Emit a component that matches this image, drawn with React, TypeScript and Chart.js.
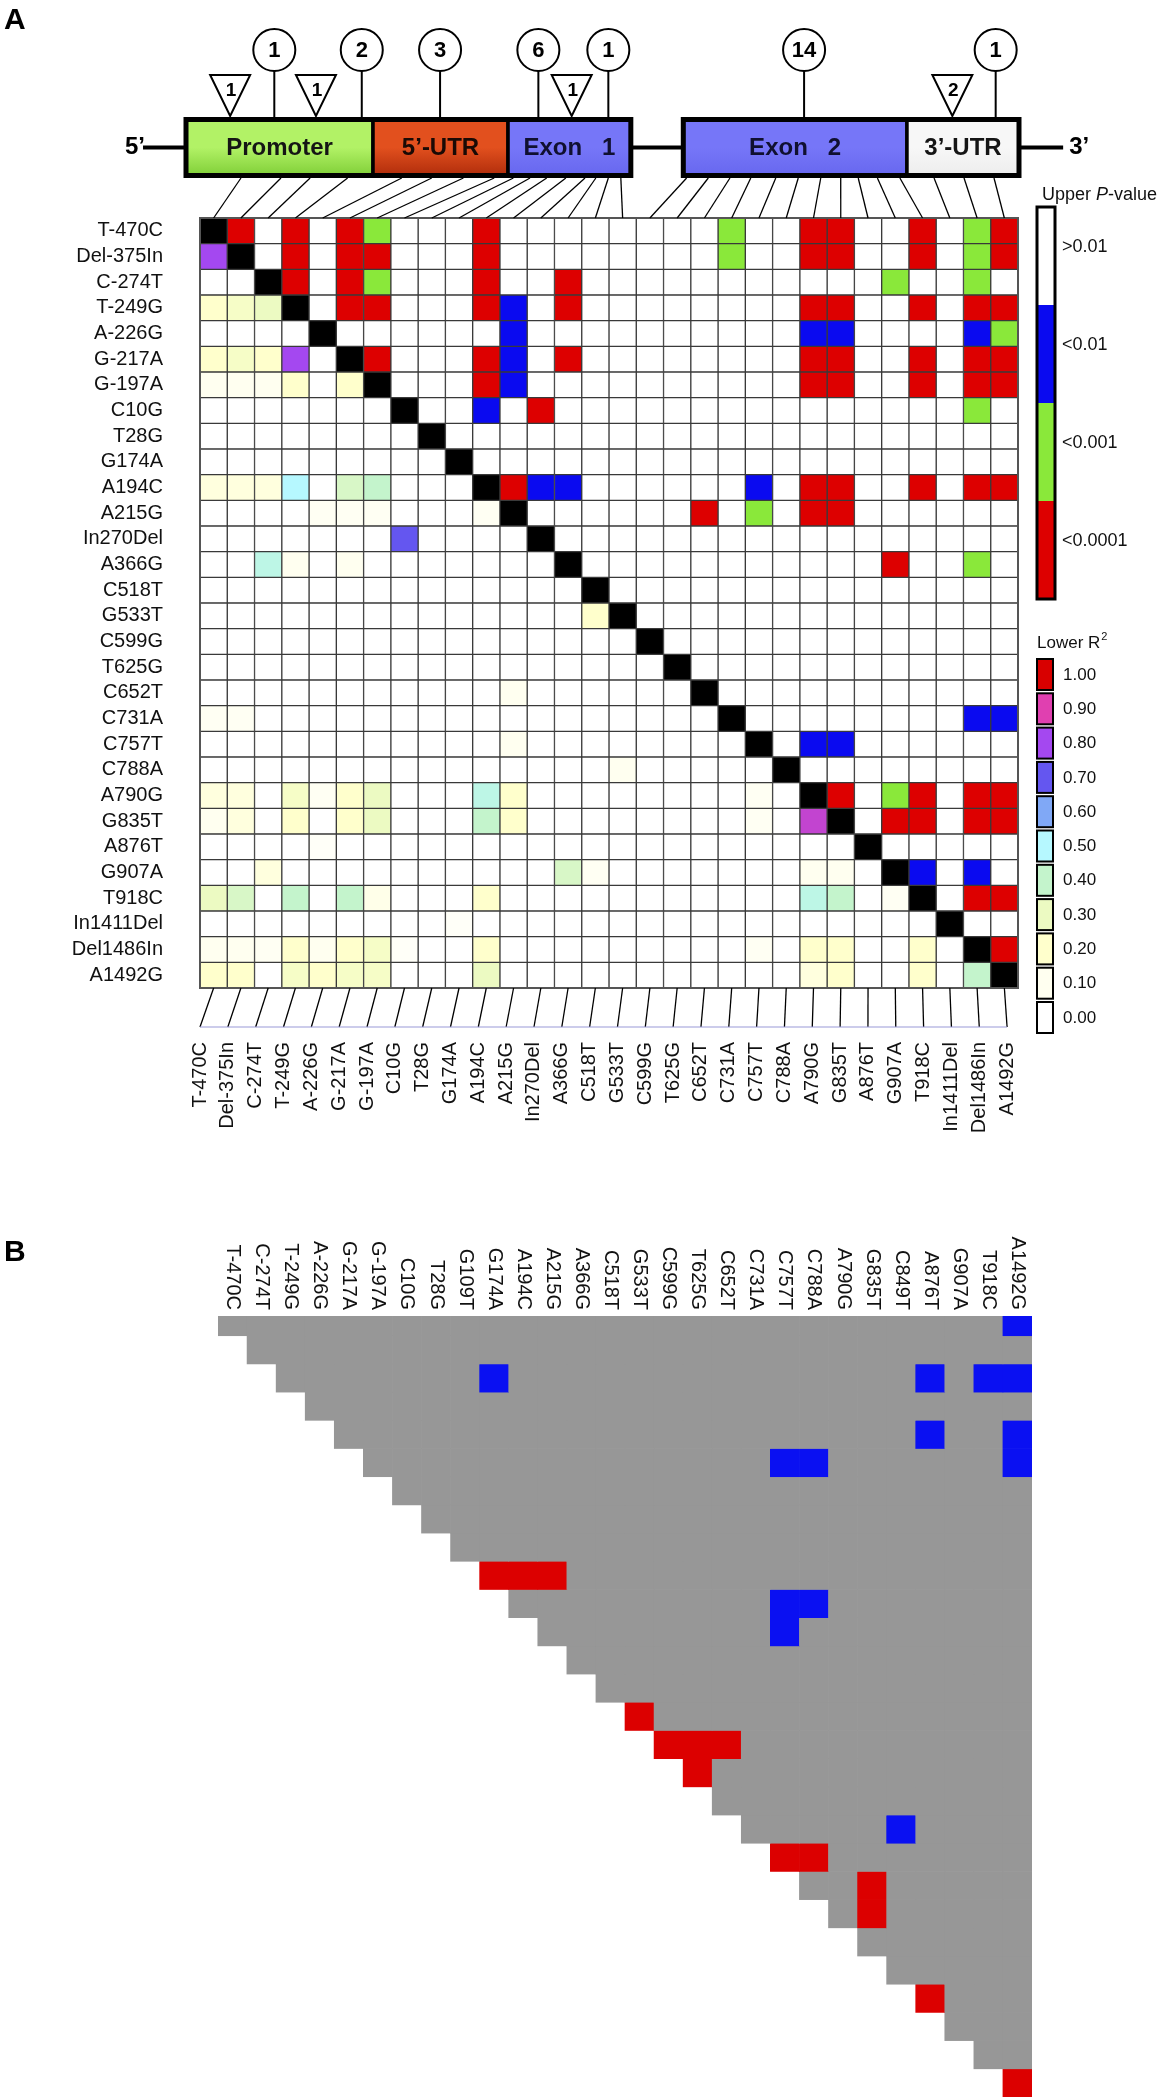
import React, { useEffect, useRef } from 'react';
import { Chart, registerables } from 'chart.js';

Chart.register(...registerables);

const FONT = "'Liberation Sans', Arial, Helvetica, sans-serif";

// ---------------- Panel A : LD matrix ----------------
const snpLabelsA = [
  'T-470C', 'Del-375In', 'C-274T', 'T-249G', 'A-226G', 'G-217A', 'G-197A', 'C10G', 'T28G', 'G174A',
  'A194C', 'A215G', 'In270Del', 'A366G', 'C518T', 'G533T', 'C599G', 'T625G', 'C652T', 'C731A',
  'C757T', 'C788A', 'A790G', 'G835T', 'A876T', 'G907A', 'T918C', 'In1411Del', 'Del1486In', 'A1492G',
];

// upper triangle: [row, col, class]  1 = P<0.01, 2 = P<0.001, 3 = P<0.0001
const upperPCells = [
  [0, 1, 3], [0, 3, 3], [0, 5, 3], [0, 6, 2], [0, 10, 3], [0, 19, 2], [0, 22, 3], [0, 23, 3], [0, 26, 3], [0, 28, 2], [0, 29, 3],
  [1, 3, 3], [1, 5, 3], [1, 6, 3], [1, 10, 3], [1, 19, 2], [1, 22, 3], [1, 23, 3], [1, 26, 3], [1, 28, 2], [1, 29, 3],
  [2, 3, 3], [2, 5, 3], [2, 6, 2], [2, 10, 3], [2, 13, 3], [2, 25, 2], [2, 28, 2],
  [3, 5, 3], [3, 6, 3], [3, 10, 3], [3, 11, 1], [3, 13, 3], [3, 22, 3], [3, 23, 3], [3, 26, 3], [3, 28, 3], [3, 29, 3],
  [4, 11, 1], [4, 22, 1], [4, 23, 1], [4, 28, 1], [4, 29, 2],
  [5, 6, 3], [5, 10, 3], [5, 11, 1], [5, 13, 3], [5, 22, 3], [5, 23, 3], [5, 26, 3], [5, 28, 3], [5, 29, 3],
  [6, 10, 3], [6, 11, 1], [6, 22, 3], [6, 23, 3], [6, 26, 3], [6, 28, 3], [6, 29, 3],
  [7, 10, 1], [7, 12, 3], [7, 28, 2],
  [10, 11, 3], [10, 12, 1], [10, 13, 1], [10, 20, 1], [10, 22, 3], [10, 23, 3], [10, 26, 3], [10, 28, 3], [10, 29, 3],
  [11, 18, 3], [11, 20, 2], [11, 22, 3], [11, 23, 3],
  [13, 25, 3], [13, 28, 2],
  [19, 28, 1], [19, 29, 1],
  [20, 22, 1], [20, 23, 1],
  [22, 23, 3], [22, 25, 2], [22, 26, 3], [22, 28, 3], [22, 29, 3],
  [23, 25, 3], [23, 26, 3], [23, 28, 3], [23, 29, 3],
  [25, 26, 1], [25, 28, 1],
  [26, 28, 3], [26, 29, 3],
  [28, 29, 3],
];

// lower triangle: [row, col, R2]
const lowerR2Cells = [
  [1, 0, 0.8],
  [3, 0, 0.2], [3, 1, 0.25], [3, 2, 0.3],
  [5, 0, 0.2], [5, 1, 0.25], [5, 2, 0.2], [5, 3, 0.8],
  [6, 0, 0.1], [6, 1, 0.1], [6, 2, 0.1], [6, 3, 0.2], [6, 5, 0.2],
  [10, 0, 0.15], [10, 1, 0.15], [10, 2, 0.15], [10, 3, 0.5], [10, 5, 0.35], [10, 6, 0.4],
  [11, 4, 0.08], [11, 5, 0.08], [11, 6, 0.08], [11, 10, 0.08],
  [12, 7, 0.7],
  [13, 2, 0.45], [13, 3, 0.1], [13, 5, 0.1],
  [15, 14, 0.2],
  [18, 11, 0.1],
  [19, 0, 0.08], [19, 1, 0.08],
  [20, 11, 0.1],
  [21, 15, 0.1],
  [22, 0, 0.15], [22, 1, 0.15], [22, 3, 0.25], [22, 4, 0.08], [22, 5, 0.2], [22, 6, 0.3], [22, 10, 0.45], [22, 11, 0.2], [22, 20, 0.08],
  [23, 0, 0.1], [23, 1, 0.15], [23, 3, 0.2], [23, 5, 0.2], [23, 6, 0.3], [23, 10, 0.4], [23, 11, 0.2], [23, 20, 0.08], [23, 22, 0.85],
  [24, 4, 0.05],
  [25, 2, 0.15], [25, 13, 0.35], [25, 14, 0.08], [25, 22, 0.1], [25, 23, 0.1],
  [26, 0, 0.3], [26, 1, 0.35], [26, 3, 0.4], [26, 5, 0.4], [26, 6, 0.12], [26, 10, 0.2], [26, 22, 0.45], [26, 23, 0.4], [26, 25, 0.08],
  [27, 9, 0.05],
  [28, 0, 0.1], [28, 1, 0.1], [28, 2, 0.08], [28, 3, 0.2], [28, 4, 0.1], [28, 5, 0.2], [28, 6, 0.25], [28, 7, 0.05], [28, 10, 0.2], [28, 20, 0.08], [28, 22, 0.2], [28, 23, 0.2], [28, 26, 0.2],
  [29, 0, 0.2], [29, 1, 0.2], [29, 3, 0.25], [29, 4, 0.2], [29, 5, 0.25], [29, 6, 0.25], [29, 10, 0.3], [29, 22, 0.15], [29, 23, 0.2], [29, 26, 0.2], [29, 28, 0.4],
];

const pClassLabels = ['>0.01', '<0.01', '<0.001', '<0.0001'];
const pClassColors = ['#ffffff', '#0a0af0', '#8ae83a', '#dd0000'];

const r2LegendLevels = [0, 0.1, 0.2, 0.3, 0.4, 0.5, 0.6, 0.7, 0.8, 0.9, 1.0];
const r2LegendLabels = ['0.00', '0.10', '0.20', '0.30', '0.40', '0.50', '0.60', '0.70', '0.80', '0.90', '1.00'];
const r2LegendColors = ['#ffffff', '#fffff0', '#ffffcc', '#ecfac2', '#c4f4cc', '#b6f8ff', '#80a8f6', '#6456f0', '#a448f0', '#e040b0', '#d80000'];

// ---------------- gene diagram (schematic units 0..100) ----------------
const geneAxisMin = 1.68;
const geneAxisMax = 99.88;
const geneBackbone = [-5.16, 105.3];
const regionNames = ['Promoter', '5’-UTR', 'Exon   1', 'Exon   2', '3’-UTR'];
const regionStarts = [0, 22.45, 38.66, 59.7, 86.55];
const regionEnds = [22.45, 38.66, 53.4, 86.55, 100];
const regionTopColors = ['#b2f266', '#e2501e', '#7676f8', '#7676f8', '#f7f7f7'];
const regionBottomColors = ['#7ccc34', '#ac2a0a', '#6666ee', '#6666ee', '#ececec'];
const regionTextColors = ['#151515', '#1a0a05', '#101030', '#101030', '#151515'];
const geneBlockStarts = [0, 59.7];
const geneBlockEnds = [53.4, 100];
const snpGenePositions = [
  6.6, 11.4, 14.9, 19.4, 25.9, 29.5, 33.3, 37.0, 39.3, 41.3, 43.3, 45.6, 47.9, 49.2, 50.7,
  52.2, 60.1, 62.7, 65.3, 67.8, 70.8, 73.5, 76.2, 78.6, 80.7, 83.0, 85.7, 89.8, 93.4, 97.0,
];
const circleMarkerPositions = [10.6, 21.1, 30.5, 42.3, 50.7, 74.2, 97.2];
const circleMarkerCounts = [1, 2, 3, 6, 1, 14, 1];
const triangleMarkerPositions = [5.3, 15.6, 46.3, 92.0];
const triangleMarkerCounts = [1, 1, 1, 2];

// ---------------- Panel B ----------------
const snpLabelsB = [
  'T-470C', 'C-274T', 'T-249G', 'A-226G', 'G-217A', 'G-197A', 'C10G', 'T28G', 'G109T', 'G174A',
  'A194C', 'A215G', 'A366G', 'C518T', 'G533T', 'C599G', 'T625G', 'C652T', 'C731A', 'C757T',
  'C788A', 'A790G', 'G835T', 'C849T', 'A876T', 'G907A', 'T918C', 'A1492G',
];
// [row, col, class]  1 = blue, 2 = red
const panelBCells = [
  [0, 27, 1], [2, 9, 1], [2, 24, 1], [2, 26, 1], [2, 27, 1], [4, 24, 1], [4, 27, 1],
  [5, 19, 1], [5, 20, 1], [5, 27, 1], [9, 9, 2], [9, 10, 2], [9, 11, 2], [10, 19, 1], [10, 20, 1],
  [11, 19, 1], [14, 14, 2], [15, 15, 2], [15, 16, 2], [15, 17, 2], [16, 16, 2], [18, 23, 1],
  [19, 19, 2], [19, 20, 2], [20, 22, 2], [21, 22, 2], [24, 24, 2], [27, 27, 2],
];
const panelBClassColors = ['#979797', '#0a10f2', '#dc0000'];
const panelBRowMin = 0.3;

// ---------------- helpers ----------------
function hexToRgb(h: string) {
  const n = parseInt(h.slice(1), 16);
  return [(n >> 16) & 255, (n >> 8) & 255, n & 255];
}
function r2Color(v: number) {
  if (v <= 0) return r2LegendColors[0];
  for (let k = 0; k < r2LegendLevels.length - 1; k++) {
    const a = r2LegendLevels[k];
    const b = r2LegendLevels[k + 1];
    if (v <= b) {
      const t = (v - a) / (b - a);
      const c1 = hexToRgb(r2LegendColors[k]);
      const c2 = hexToRgb(r2LegendColors[k + 1]);
      const c = c1.map((x, i) => Math.round(x + (c2[i] - x) * t));
      return `rgb(${c[0]},${c[1]},${c[2]})`;
    }
  }
  return r2LegendColors[r2LegendColors.length - 1];
}

const panelAPlugin = {
  id: 'panelAExtras',
  afterDraw(chart: any) {
    const ctx = chart.ctx as CanvasRenderingContext2D;
    const ca = chart.chartArea;
    const xs = chart.scales.x;
    const xg = chart.scales.xg;
    ctx.save();

    // frame around matrix
    ctx.strokeStyle = '#555';
    ctx.lineWidth = 2;
    ctx.strokeRect(ca.left, ca.top, ca.right - ca.left, ca.bottom - ca.top);

    // panel letter
    ctx.fillStyle = '#000';
    ctx.font = `bold 30px ${FONT}`;
    ctx.textAlign = 'left';
    ctx.textBaseline = 'alphabetic';
    ctx.fillText('A', 4, 29);

    // ---- gene diagram ----
    const boxTop = ca.top - 101;
    const boxBot = ca.top - 40;
    const midY = (boxTop + boxBot) / 2;
    const inset = 2.5;

    // connecting lines gene -> matrix columns
    ctx.strokeStyle = '#000';
    ctx.lineWidth = 1.3;
    snpGenePositions.forEach((u, i) => {
      ctx.beginPath();
      ctx.moveTo(xg.getPixelForValue(u), boxBot);
      ctx.lineTo(xs.getPixelForValue(i + 0.5), ca.top);
      ctx.stroke();
    });

    // backbone
    ctx.lineWidth = 4;
    ctx.beginPath();
    ctx.moveTo(xg.getPixelForValue(geneBackbone[0]), midY);
    ctx.lineTo(xg.getPixelForValue(geneBackbone[1]), midY);
    ctx.stroke();
    ctx.font = `bold 24px ${FONT}`;
    ctx.textBaseline = 'middle';
    ctx.textAlign = 'right';
    ctx.fillText('5’', xg.getPixelForValue(geneBackbone[0]) + 2, midY);
    ctx.textAlign = 'left';
    ctx.fillText('3’', xg.getPixelForValue(geneBackbone[1]) + 6, midY);

    // regions
    regionNames.forEach((name, k) => {
      const x0 = xg.getPixelForValue(regionStarts[k]);
      const x1 = xg.getPixelForValue(regionEnds[k]);
      const g = ctx.createLinearGradient(0, boxTop, 0, boxBot);
      g.addColorStop(0, regionTopColors[k]);
      g.addColorStop(0.5, regionTopColors[k]);
      g.addColorStop(1, regionBottomColors[k]);
      ctx.fillStyle = g;
      ctx.fillRect(x0, boxTop + inset, x1 - x0, boxBot - boxTop - 2 * inset);
      ctx.strokeStyle = '#000';
      ctx.lineWidth = 3.5;
      ctx.strokeRect(x0, boxTop + inset, x1 - x0, boxBot - boxTop - 2 * inset);
      ctx.fillStyle = regionTextColors[k];
      ctx.font = `bold 24px ${FONT}`;
      ctx.textAlign = 'center';
      ctx.textBaseline = 'middle';
      ctx.fillText(name, (x0 + x1) / 2, midY + 1);
    });
    geneBlockStarts.forEach((s, k) => {
      const x0 = xg.getPixelForValue(s);
      const x1 = xg.getPixelForValue(geneBlockEnds[k]);
      ctx.strokeStyle = '#000';
      ctx.lineWidth = 5;
      ctx.strokeRect(x0, boxTop + inset, x1 - x0, boxBot - boxTop - 2 * inset);
    });

    // circle markers
    const cy = ca.top - 168;
    const r = 21;
    circleMarkerPositions.forEach((u, k) => {
      const x = xg.getPixelForValue(u);
      ctx.strokeStyle = '#000';
      ctx.lineWidth = 2;
      ctx.beginPath();
      ctx.moveTo(x, cy + r);
      ctx.lineTo(x, boxTop);
      ctx.stroke();
      ctx.beginPath();
      ctx.arc(x, cy, r, 0, Math.PI * 2);
      ctx.fillStyle = '#fff';
      ctx.fill();
      ctx.stroke();
      ctx.fillStyle = '#000';
      ctx.font = `bold 22px ${FONT}`;
      ctx.textAlign = 'center';
      ctx.textBaseline = 'middle';
      ctx.fillText(String(circleMarkerCounts[k]), x, cy + 1);
    });

    // triangle markers
    const triTop = ca.top - 143;
    const triTip = ca.top - 102;
    triangleMarkerPositions.forEach((u, k) => {
      const x = xg.getPixelForValue(u);
      ctx.beginPath();
      ctx.moveTo(x - 20, triTop);
      ctx.lineTo(x + 20, triTop);
      ctx.lineTo(x, triTip);
      ctx.closePath();
      ctx.fillStyle = '#fff';
      ctx.fill();
      ctx.strokeStyle = '#000';
      ctx.lineWidth = 2;
      ctx.stroke();
      ctx.fillStyle = '#000';
      ctx.font = `bold 19px ${FONT}`;
      ctx.textAlign = 'center';
      ctx.textBaseline = 'middle';
      ctx.fillText(String(triangleMarkerCounts[k]), x + 1, triTop + 16);
    });

    // ---- column labels with slanted leaders ----
    const leadBot = ca.bottom + 39;
    const lx0 = xs.getPixelForValue(0);
    const lx1 = xs.getPixelForValue(29.6);
    const n = snpLabelsA.length;
    const labelX = (i: number) => lx0 + (i * (lx1 - lx0)) / (n - 1);
    ctx.strokeStyle = '#000';
    ctx.lineWidth = 1.3;
    for (let i = 0; i < n; i++) {
      ctx.beginPath();
      ctx.moveTo(xs.getPixelForValue(i + 0.5), ca.bottom);
      ctx.lineTo(labelX(i), leadBot);
      ctx.stroke();
    }
    ctx.strokeStyle = '#9a9ad8';
    ctx.lineWidth = 1.2;
    ctx.beginPath();
    ctx.moveTo(labelX(0), leadBot);
    ctx.lineTo(labelX(n - 1), leadBot);
    ctx.stroke();
    ctx.fillStyle = '#111';
    ctx.font = `20px ${FONT}`;
    snpLabelsA.forEach((lab, i) => {
      ctx.save();
      ctx.translate(labelX(i), ca.bottom + 54);
      ctx.rotate(-Math.PI / 2);
      ctx.textAlign = 'right';
      ctx.textBaseline = 'middle';
      ctx.fillText(lab, 0, 0);
      ctx.restore();
    });

    // ---- P-value legend ----
    const lgX = ca.right + 19;
    let tx = ca.right + 24;
    const ty = 195;
    ctx.fillStyle = '#111';
    ctx.textAlign = 'left';
    ctx.textBaseline = 'middle';
    ctx.font = `18px ${FONT}`;
    ctx.fillText('Upper ', tx, ty);
    tx += ctx.measureText('Upper ').width;
    ctx.font = `italic 18px ${FONT}`;
    ctx.fillText('P', tx, ty);
    tx += ctx.measureText('P').width;
    ctx.font = `18px ${FONT}`;
    ctx.fillText('-value', tx, ty);

    const pTop = 207;
    const pSeg = 98;
    const pW = 18;
    pClassLabels.forEach((lab, k) => {
      ctx.fillStyle = pClassColors[k];
      ctx.fillRect(lgX, pTop + k * pSeg, pW, pSeg);
      ctx.fillStyle = '#111';
      ctx.font = `18px ${FONT}`;
      ctx.fillText(lab, lgX + 25, pTop + k * pSeg + 40);
    });
    ctx.strokeStyle = '#000';
    ctx.lineWidth = 3;
    ctx.strokeRect(lgX, pTop, pW, pSeg * pClassLabels.length);

    // ---- R2 legend ----
    ctx.fillStyle = '#111';
    ctx.font = `17px ${FONT}`;
    ctx.fillText('Lower R', lgX, 643);
    const w = ctx.measureText('Lower R').width;
    ctx.font = `11px ${FONT}`;
    ctx.fillText('2', lgX + w + 1, 637);
    const rTop = 659;
    const rPitch = 34.3;
    for (let k = r2LegendLevels.length - 1, j = 0; k >= 0; k--, j++) {
      const y = rTop + j * rPitch;
      ctx.fillStyle = r2LegendColors[k];
      ctx.fillRect(lgX, y, 16, 31);
      ctx.strokeStyle = '#000';
      ctx.lineWidth = 2;
      ctx.strokeRect(lgX, y, 16, 31);
      ctx.fillStyle = '#111';
      ctx.font = `17px ${FONT}`;
      ctx.fillText(r2LegendLabels[k], lgX + 26, y + 16);
    }

    ctx.restore();
  },
};

const panelBPlugin = {
  id: 'panelBExtras',
  afterDraw(chart: any) {
    const ctx = chart.ctx as CanvasRenderingContext2D;
    const ca = chart.chartArea;
    const xs = chart.scales.x;
    ctx.save();
    ctx.fillStyle = '#000';
    ctx.font = `bold 30px ${FONT}`;
    ctx.textAlign = 'left';
    ctx.textBaseline = 'alphabetic';
    ctx.fillText('B', 4, ca.top - 55);
    ctx.fillStyle = '#111';
    ctx.font = `20px ${FONT}`;
    snpLabelsB.forEach((lab, c) => {
      ctx.save();
      ctx.translate(xs.getPixelForValue(c), ca.top - 6);
      ctx.rotate(Math.PI / 2);
      ctx.textAlign = 'right';
      ctx.textBaseline = 'middle';
      ctx.fillText(lab, 0, 0);
      ctx.restore();
    });
    ctx.restore();
  },
};

function PanelA() {
  const ref = useRef<HTMLCanvasElement>(null);
  useEffect(() => {
    const pMap = new Map<string, number>();
    upperPCells.forEach(([r, c, k]) => pMap.set(r + ',' + c, k));
    const rMap = new Map<string, number>();
    lowerR2Cells.forEach(([r, c, v]) => rMap.set(r + ',' + c, v));
    const cellColor = (i: number, j: number) => {
      if (i === j) return '#000000';
      if (i < j) return pClassColors[pMap.get(i + ',' + j) || 0];
      return r2Color(rMap.get(i + ',' + j) || 0);
    };
    const datasets = snpLabelsA.map((lab, j) => ({
      label: lab,
      data: snpLabelsA.map(() => [j, j + 1]),
      backgroundColor: snpLabelsA.map((_, i) => cellColor(i, j)),
      borderColor: '#3a3a3a',
      borderWidth: 1,
      borderSkipped: false,
      barPercentage: 1,
      categoryPercentage: 1,
      grouped: false,
    }));
    const chart = new Chart(ref.current as HTMLCanvasElement, {
      type: 'bar',
      data: { labels: snpLabelsA, datasets: datasets as any },
      options: {
        indexAxis: 'y',
        animation: false,
        responsive: false,
        maintainAspectRatio: false,
        layout: { padding: { top: 218, right: 152, bottom: 152, left: 0 } },
        plugins: { legend: { display: false }, tooltip: { enabled: false } },
        scales: {
          x: { type: 'linear', min: 0, max: snpLabelsA.length, display: false },
          xg: { type: 'linear', min: geneAxisMin, max: geneAxisMax, display: false },
          y: {
            type: 'category',
            offset: true,
            grid: { display: false, drawTicks: false },
            border: { display: false },
            ticks: { font: { family: FONT, size: 20 }, color: '#111', padding: 37, autoSkip: false },
            afterFit: (s: any) => { s.width = 200; },
          },
        },
      } as any,
      plugins: [panelAPlugin],
    });
    return () => chart.destroy();
  }, []);
  return <canvas ref={ref} width={1170} height={1140} style={{ position: 'absolute', left: 0, top: 0 }} />;
}

function PanelB() {
  const ref = useRef<HTMLCanvasElement>(null);
  useEffect(() => {
    const cMap = new Map<string, number>();
    panelBCells.forEach(([r, c, k]) => cMap.set(r + ',' + c, k));
    const datasets = snpLabelsB.map((lab, r) => ({
      label: lab,
      data: snpLabelsB.map((_, c) => (c >= r ? [r, r + 1] : null)),
      backgroundColor: snpLabelsB.map((_, c) => panelBClassColors[cMap.get(r + ',' + c) || 0]),
      borderWidth: 0,
      barPercentage: 1,
      categoryPercentage: 1,
      grouped: false,
    }));
    const chart = new Chart(ref.current as HTMLCanvasElement, {
      type: 'bar',
      data: { labels: snpLabelsB, datasets: datasets as any },
      options: {
        animation: false,
        responsive: false,
        maintainAspectRatio: false,
        layout: { padding: { top: 166, right: 138, bottom: 3, left: 218 } },
        plugins: { legend: { display: false }, tooltip: { enabled: false } },
        scales: {
          x: { type: 'category', offset: true, display: false },
          y: { type: 'linear', min: panelBRowMin, max: snpLabelsB.length, reverse: true, display: false },
        },
      } as any,
      plugins: [panelBPlugin],
    });
    return () => chart.destroy();
  }, []);
  return <canvas ref={ref} width={1170} height={950} style={{ position: 'absolute', left: 0, top: 1150 }} />;
}

export default function App() {
  return (
    <div style={{ position: 'absolute', left: 0, top: 0, width: 1170, height: 2100, background: '#fff', overflow: 'hidden' }}>
      <PanelA />
      <PanelB />
    </div>
  );
}
